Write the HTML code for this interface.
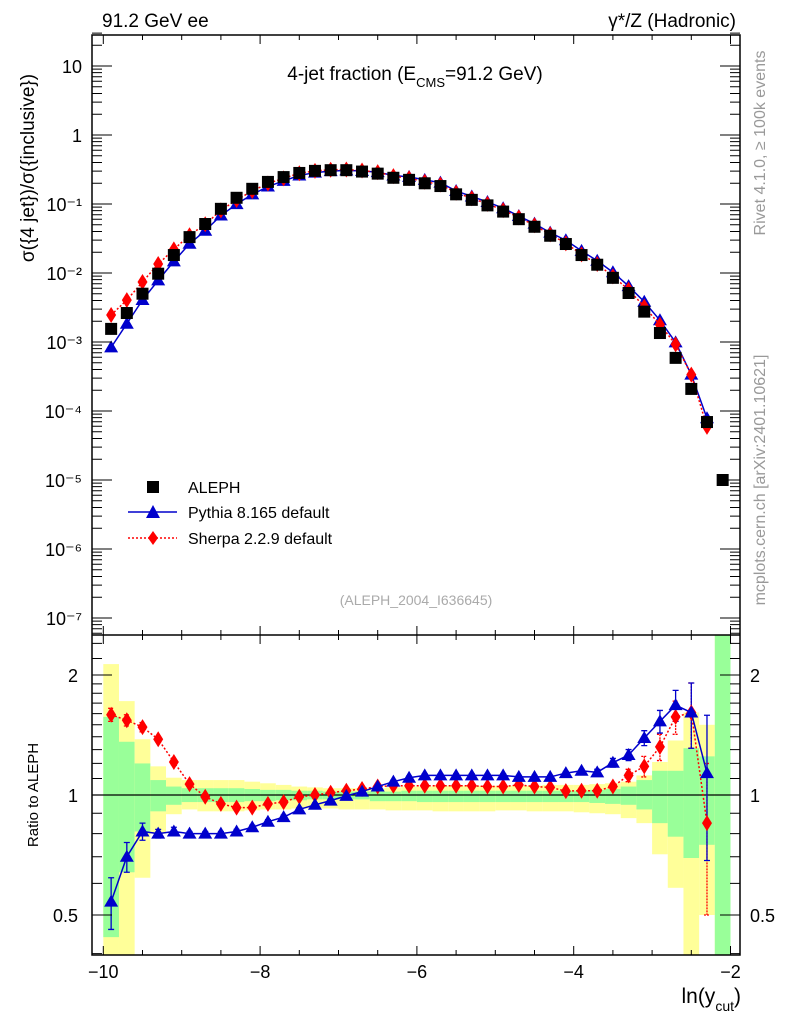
<!DOCTYPE html>
<html><head><meta charset="utf-8"><style>
body{margin:0;background:#fff}
svg{display:block;font-family:"Liberation Sans",sans-serif}
</style></head><body>
<svg id="c" width="786" height="1024" viewBox="0 0 786 1024" xmlns="http://www.w3.org/2000/svg">
<text x="102" y="27" font-size="19">91.2 GeV ee</text>
<text x="736" y="27" font-size="19" text-anchor="end">γ*/Z (Hadronic)</text>
<text x="415" y="80" font-size="19" text-anchor="middle">4-jet fraction (E<tspan font-size="13" dy="7">CMS</tspan><tspan dy="-7">=91.2 GeV)</tspan></text>
<text transform="translate(34,168) rotate(-90)" font-size="19" text-anchor="middle">σ({4 jet})/σ({inclusive})</text>
<text transform="translate(38,795) rotate(-90)" font-size="15" text-anchor="middle">Ratio to ALEPH</text>
<text x="741" y="1003" font-size="21" text-anchor="end">ln(y<tspan font-size="14" dy="8">cut</tspan><tspan dy="-8">)</tspan></text>
<text transform="translate(765,143) rotate(-90)" font-size="16" fill="#999" text-anchor="middle">Rivet 4.1.0, ≥ 100k events</text>
<text transform="translate(765,480) rotate(-90)" font-size="16" fill="#999" text-anchor="middle">mcplots.cern.ch [arXiv:2401.10621]</text>
<text x="416" y="605" font-size="14" fill="#aaa" text-anchor="middle">(ALEPH_2004_I636645)</text>
<g id="bands"></g><g id="top"></g><g id="bot"></g><g id="axes"></g>
<g>
<rect x="147" y="481" width="12" height="12" fill="#000"/>
<text x="188" y="493" font-size="16">ALEPH</text>
<line x1="128" y1="512" x2="177" y2="512" stroke="#0000cc" stroke-width="1.5"/>
<polygon points="153,505 160,518 146,518" fill="#0000cc"/>
<text x="188" y="518" font-size="16">Pythia 8.165 default</text>
<line x1="128" y1="538" x2="177" y2="538" stroke="red" stroke-width="1.5" stroke-dasharray="2,2"/>
<polygon points="153,531 158,538 153,545 148,538" fill="red"/>
<text x="188" y="544" font-size="16">Sherpa 2.2.9 default</text>
</g>
</svg>
<script>
const xCenters=[-9.9,-9.7,-9.5,-9.3,-9.1,-8.9,-8.7,-8.5,-8.3,-8.1,-7.9,-7.7,-7.5,-7.3,-7.1,-6.9,-6.7,-6.5,-6.3,-6.1,-5.9,-5.7,-5.5,-5.3,-5.1,-4.9,-4.7,-4.5,-4.3,-4.1,-3.9,-3.7,-3.5,-3.3,-3.1,-2.9,-2.7,-2.5,-2.3,-2.1];
const alephLog=[-2.81,-2.58,-2.30,-2.01,-1.74,-1.48,-1.29,-1.07,-0.91,-0.78,-0.68,-0.61,-0.55,-0.52,-0.51,-0.51,-0.53,-0.56,-0.62,-0.65,-0.70,-0.74,-0.86,-0.94,-1.02,-1.11,-1.22,-1.33,-1.46,-1.58,-1.74,-1.88,-2.07,-2.29,-2.56,-2.87,-3.23,-3.68,-4.16,-5.0];
const pythiaRatio=[0.54,0.70,0.81,0.80,0.81,0.80,0.80,0.80,0.81,0.83,0.857,0.88,0.92,0.945,0.968,0.995,1.02,1.05,1.08,1.105,1.12,1.12,1.12,1.12,1.12,1.12,1.11,1.11,1.11,1.135,1.15,1.14,1.205,1.26,1.39,1.53,1.68,1.61,1.135,null];
const pythiaErr=[0.08,0.06,0.04,0.02,0.02,0.01,0.01,0.01,0.01,0.01,0.01,0.01,0.01,0.01,0.01,0.01,0.01,0.01,0.01,0.01,0.01,0.01,0.01,0.01,0.01,0.01,0.01,0.01,0.01,0.01,0.01,0.02,0.03,0.04,0.06,0.1,0.15,0.3,0.45,null];
const sherpaRatio=[1.59,1.54,1.48,1.38,1.21,1.065,0.99,0.95,0.93,0.93,0.95,0.96,0.99,1.0,1.013,1.025,1.035,1.05,1.055,1.055,1.055,1.055,1.055,1.055,1.05,1.05,1.06,1.05,1.045,1.023,1.025,1.025,1.05,1.12,1.18,1.32,1.57,1.61,0.85,null];
const sherpaErr=[0.06,0.05,0.04,0.02,0.02,0.01,0.01,0.01,0.01,0.01,0.01,0.01,0.01,0.01,0.01,0.01,0.01,0.01,0.01,0.01,0.01,0.01,0.01,0.01,0.01,0.01,0.01,0.01,0.01,0.01,0.01,0.01,0.02,0.04,0.07,0.1,0.15,0.3,0.35,null];
const greenHi=[1.57,1.36,1.2,1.09,1.05,1.04,1.04,1.04,1.04,1.035,1.03,1.03,1.025,1.025,1.02,1.02,1.02,1.02,1.02,1.025,1.025,1.025,1.025,1.025,1.025,1.025,1.025,1.025,1.025,1.025,1.025,1.03,1.035,1.05,1.09,1.15,1.15,1.31,1.25,2.6];
const greenLo=[0.44,0.64,0.81,0.91,0.945,0.96,0.96,0.96,0.96,0.965,0.965,0.97,0.97,0.975,0.975,0.975,0.975,0.965,0.965,0.965,0.96,0.96,0.96,0.96,0.96,0.96,0.96,0.96,0.96,0.96,0.96,0.955,0.95,0.945,0.92,0.85,0.786,0.695,0.75,0.35];
const yellowHi=[2.13,1.72,1.38,1.18,1.105,1.09,1.09,1.09,1.09,1.08,1.07,1.06,1.05,1.045,1.04,1.04,1.04,1.04,1.045,1.05,1.05,1.055,1.055,1.055,1.055,1.055,1.055,1.055,1.06,1.06,1.06,1.065,1.07,1.08,1.12,1.21,1.37,1.61,1.50,2.6];
const yellowLo=[0.35,0.35,0.62,0.80,0.895,0.92,0.91,0.91,0.91,0.915,0.92,0.92,0.925,0.925,0.925,0.92,0.92,0.92,0.915,0.915,0.915,0.91,0.91,0.91,0.91,0.915,0.915,0.91,0.91,0.91,0.905,0.9,0.895,0.875,0.85,0.71,0.585,0.35,0.5,0.35];
const topTickLabels=["10","1","10⁻¹","10⁻²","10⁻³","10⁻⁴","10⁻⁵","10⁻⁶","10⁻⁷"];
const xTickLabels=["−10","−8","−6","−4","−2"];
const NS='http://www.w3.org/2000/svg';
const X0=92,X1=740,YT=35,YM=635,YB=955;
const sx=v=>103.3+(v+10)*78.4;
const sy=l=>135-69*l;
const sr=r=>795-120*Math.log2(r);
const clampR=y=>Math.max(YM,Math.min(YB,y));
function mk(tag,attrs,parent){const e=document.createElementNS(NS,tag);for(const k in attrs)e.setAttribute(k,attrs[k]);document.getElementById(parent).appendChild(e);return e;}
for(let i=0;i<40;i++){
 const xa=sx(xCenters[i]-0.1),xb=Math.min(X1,sx(xCenters[i]+0.1));
 const y1=clampR(sr(yellowHi[i])),y2=clampR(sr(yellowLo[i]));
 const r=mk('rect',{x:xa,y:y1,width:xb-xa,height:y2-y1,fill:'#ffff99'},'bands');
 
 
 const g1=clampR(sr(greenHi[i])),g2=clampR(sr(greenLo[i]));
 const g=mk('rect',{x:xa,y:g1,width:xb-xa,height:g2-g1,fill:'#99ff99'},'bands');
 
 
}
mk('line',{x1:X0,x2:X1,y1:sr(1),y2:sr(1),stroke:'#000','stroke-width':1.2},'bands');
function series(vals,color,dash,shape,parent,ys,name){
 const pts=[];vals.forEach((v,i)=>{if(v!=null)pts.push([sx(xCenters[i]),ys(v)]);});
 const pl=mk('polyline',{points:pts.map(p=>p.join(',')).join(' '),fill:'none',stroke:color,'stroke-width':1.5,'stroke-dasharray':dash},parent);
 
 
 pts.forEach(([x,y])=>{let m;
  if(shape==='tri')m=mk('polygon',{points:`${x},${y-7} ${x+7},${y+5} ${x-7},${y+5}`,fill:color},parent);
  else m=mk('polygon',{points:`${x},${y-8} ${x+5},${y} ${x},${y+8} ${x-5},${y}`,fill:color},parent);
  
  
 });
}
const pyTop=pythiaRatio.map((r,i)=>r==null?null:alephLog[i]+Math.log10(r));
const shTop=sherpaRatio.map((r,i)=>r==null?null:alephLog[i]+Math.log10(r));
series(pyTop,'#0000cc','','tri','top',sy,'pythia-top');
series(shTop,'red','2,2','dia','top',sy,'sherpa-top');
alephLog.forEach((l,i)=>{const r=mk('rect',{x:sx(xCenters[i])-6,y:sy(l)-6,width:12,height:12,fill:'#000'},'top');
 
 });
function errs(vals,err,color,dash){vals.forEach((v,i)=>{if(v==null||err[i]==null)return;const x=sx(xCenters[i]);
 const a=clampR(sr(v+err[i])),b=clampR(sr(Math.max(0.3,v-err[i])));
 const l=mk('path',{d:`M${x},${a}V${b}M${x-3},${a}H${x+3}M${x-3},${b}H${x+3}`,stroke:color,'stroke-width':1.3,'stroke-dasharray':dash,fill:'none'},'bot');
 
 });}
errs(sherpaRatio,sherpaErr,'red','2,1');
errs(pythiaRatio,pythiaErr,'#0000cc','');
series(sherpaRatio,'red','2,2','dia','bot',sr,'sherpa-ratio');
series(pythiaRatio,'#0000cc','','tri','bot',sr,'pythia-ratio');
mk('rect',{x:X0,y:YT,width:X1-X0,height:YB-YT,fill:'none',stroke:'#000','stroke-width':1.5},'axes');
mk('line',{x1:X0,x2:X1,y1:YM,y2:YM,stroke:'#000','stroke-width':1.5},'axes');
topTickLabels.forEach((t,i)=>{const l=1-i,y=sy(l);
 mk('path',{d:`M${X0},${y}h20M${X1},${y}h-20`,stroke:'#000'},'axes');
 const tx=mk('text',{x:82,y:y+7,'font-size':18,'text-anchor':'end'},'axes');tx.textContent=t;
 
 
 for(let k=2;k<10;k++){const ym=sy(l-1+Math.log10(k));if(ym<YT||ym>YM)continue;
  mk('path',{d:`M${X0},${ym}h10M${X1},${ym}h-10`,stroke:'#000'},'axes');}
});
for(let k=2;k<=3;k++){const ym=sy(1+Math.log10(k));mk('path',{d:`M${X0},${ym}h10M${X1},${ym}h-10`,stroke:'#000'},'axes');}
[[2,'2'],[1,'1'],[0.5,'0.5']].forEach(([r,t])=>{const y=sr(r);
 mk('path',{d:`M${X0},${y}h20M${X1},${y}h-20`,stroke:'#000'},'axes');
 const a=mk('text',{x:78,y:y+7,'font-size':18,'text-anchor':'end'},'axes');a.textContent=t;
 
 
 const b=mk('text',{x:750,y:y+7,'font-size':18},'axes');b.textContent=t;
 
 });
[0.4,0.6,0.7,0.8,0.9,1.1,1.2,1.3,1.4,1.5,1.6,1.7,1.8,1.9,2.2,2.4].forEach(r=>{const y=sr(r);mk('path',{d:`M${X0},${y}h10M${X1},${y}h-10`,stroke:'#000'},'axes');});
xTickLabels.forEach((t,i)=>{const x=sx(-10+2*i);
 mk('path',{d:`M${x},${YB}v-9M${x},${YM}v-9M${x},${YM}v9M${x},${YT}v9`,stroke:'#000'},'axes');
 const a=mk('text',{x:x,y:978,'font-size':18,'text-anchor':'middle'},'axes');a.textContent=t;
 
 });
for(let v=-9.5;v<-2;v+=0.5){if(Math.abs(v-Math.round(v/2)*2)<0.01)continue;const x=sx(v);
 mk('path',{d:`M${x},${YB}v-5M${x},${YM}v-5M${x},${YM}v5M${x},${YT}v5`,stroke:'#000'},'axes');}
</script>
</body></html>
